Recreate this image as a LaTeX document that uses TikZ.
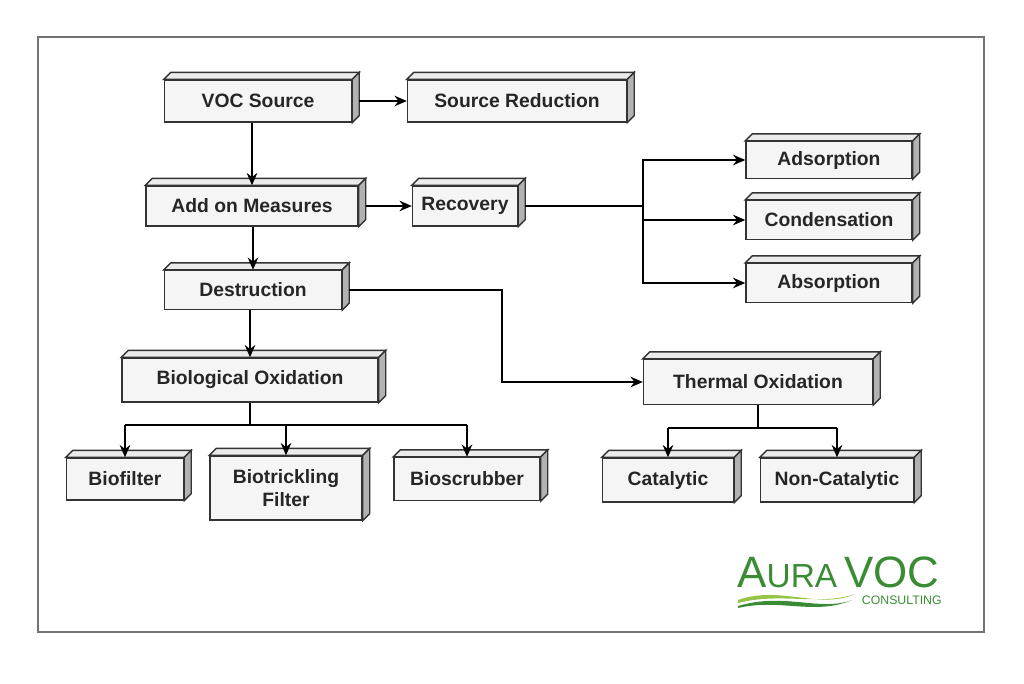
\documentclass[tikz,border=0pt]{standalone}
\usepackage{fontspec}
\setmainfont{Liberation Sans}
\usetikzlibrary{arrows.meta,calc}
\definecolor{auragreen}{RGB}{58,140,52}
\definecolor{auralight}{RGB}{150,196,70}
\tikzset{
  box/.style={draw=black!80,line width=0.8pt,fill=black!4,inner sep=0pt,
    font=\fontsize{11}{13}\selectfont\bfseries,text=black!85,align=center},
  arrow/.style={line width=1.1pt,-{Stealth[length=7pt,width=6pt]}},
  line/.style={line width=1.1pt},
  top/.style={draw=black!80,line width=0.8pt,fill=black!8},
  side/.style={draw=black!80,line width=0.8pt,fill=black!30}
}
\newcommand{\boxface}[1]{%
  \draw[top] (#1.north west) -- ++(7,-7) -- ($(#1.north east)+(7,-7)$) -- (#1.north east) -- cycle;
  \draw[side] (#1.north east) -- ++(7,-7) -- ($(#1.south east)+(7,-7)$) -- (#1.south east) -- cycle;}
\begin{document}
\begin{tikzpicture}[x=0.02cm,y=-0.02cm]
  \useasboundingbox (0,0) rectangle (1024,683);
  \draw[black!55,line width=0.8pt] (38,37) rectangle (984,632);
  % nodes
  \node[box,minimum width=187*0.02cm,minimum height=42*0.02cm] (voc) at (258,101) {VOC Source};
  \node[box,minimum width=219*0.02cm,minimum height=42*0.02cm] (red) at (517,101) {Source Reduction};
  \node[box,minimum width=212*0.02cm,minimum height=40*0.02cm] (add) at (252,206) {Add on Measures};
  \node[box,minimum width=105*0.02cm,minimum height=40*0.02cm] (rec) at (465,206) {Recovery};
  \node[box,minimum width=177*0.02cm,minimum height=39*0.02cm] (des) at (253,290) {Destruction};
  \node[box,minimum width=256*0.02cm,minimum height=44*0.02cm] (bio) at (250,380) {Biological Oxidation};
  \node[box,minimum width=229*0.02cm,minimum height=45*0.02cm] (the) at (758,382) {Thermal Oxidation};
  \node[box,minimum width=166*0.02cm,minimum height=37*0.02cm] (ads) at (829,160) {Adsorption};
  \node[box,minimum width=166*0.02cm,minimum height=39*0.02cm] (con) at (829,220) {Condensation};
  \node[box,minimum width=166*0.02cm,minimum height=39*0.02cm] (abs) at (829,283) {Absorption};
  \node[box,minimum width=117*0.02cm,minimum height=42*0.02cm] (bf) at (125,479) {Biofilter};
  \node[box,minimum width=152*0.02cm,minimum height=64*0.02cm] (btf) at (286,488) {Biotrickling\\Filter};
  \node[box,minimum width=146*0.02cm,minimum height=43*0.02cm] (bs) at (467,479) {Bioscrubber};
  \node[box,minimum width=131*0.02cm,minimum height=44*0.02cm] (cat) at (668,480) {Catalytic};
  \node[box,minimum width=153*0.02cm,minimum height=44*0.02cm] (ncat) at (837,480) {Non-Catalytic};
  \foreach \n in {voc,red,add,rec,des,bio,the,ads,con,abs,bf,btf,bs,cat,ncat} {\boxface{\n}}
  % connectors
  \coordinate (rj) at (643,206);
  \coordinate (bj) at (250,425);
  \coordinate (tj) at (758,428);
  \coordinate (dj) at (502,290);
  \draw[arrow] ($(voc.east)+(7,0)$) -- (red.west);
  \draw[arrow] (voc.south -| add.north) -- (add.north);
  \draw[arrow] ($(add.east)+(7,0)$) -- (rec.west);
  \draw[arrow] (add.south -| des.north) -- (des.north);
  \draw[arrow] (des.south -| bio.north) -- (bio.north);
  \draw[arrow] ($(des.east)+(7,0)$) -- (dj) |- (the.west);
  \draw[line] ($(rec.east)+(7,0)$) -- (rj);
  \draw[arrow] (rj) |- (ads.west);
  \draw[arrow] (rj) -- (con.west -| rj) -- (con.west);
  \draw[arrow] (rj) |- (abs.west);
  \draw[line] (bio.south) -- (bj);
  \draw[line] (bj -| bf) -- (bj -| bs);
  \foreach \n in {bf,btf,bs} {\draw[arrow] (bj -| \n) -- (\n.north);}
  \draw[line] (the.south) -- (tj);
  \draw[line] (tj -| cat) -- (tj -| ncat);
  \foreach \n in {cat,ncat} {\draw[arrow] (tj -| \n) -- (\n.north);}
  % logo
  \node[text=auragreen,font=\fontsize{25}{28}\selectfont,anchor=base west,inner sep=0pt] (aura) at (737,587) {A\fontsize{19}{22}\selectfont URA};
  \node[text=auragreen,font=\fontsize{25}{28}\selectfont,anchor=base east,inner sep=0pt] (vocl) at (940,587) {VOC};
  \node[text=auragreen,font=\fontsize{7}{9}\selectfont,anchor=base east,inner sep=0pt] (cons) at (942,604) {CONSULTING};
  \fill[auralight] (738,600) .. controls (780,585) and (820,610) .. (855,594)
    .. controls (820,606) and (780,592) .. (738,603) -- cycle;
  \fill[auragreen] (738,606) .. controls (785,592) and (820,612) .. (852,600)
    .. controls (815,616) and (780,598) .. (738,608) -- cycle;
\end{tikzpicture}
\end{document}
